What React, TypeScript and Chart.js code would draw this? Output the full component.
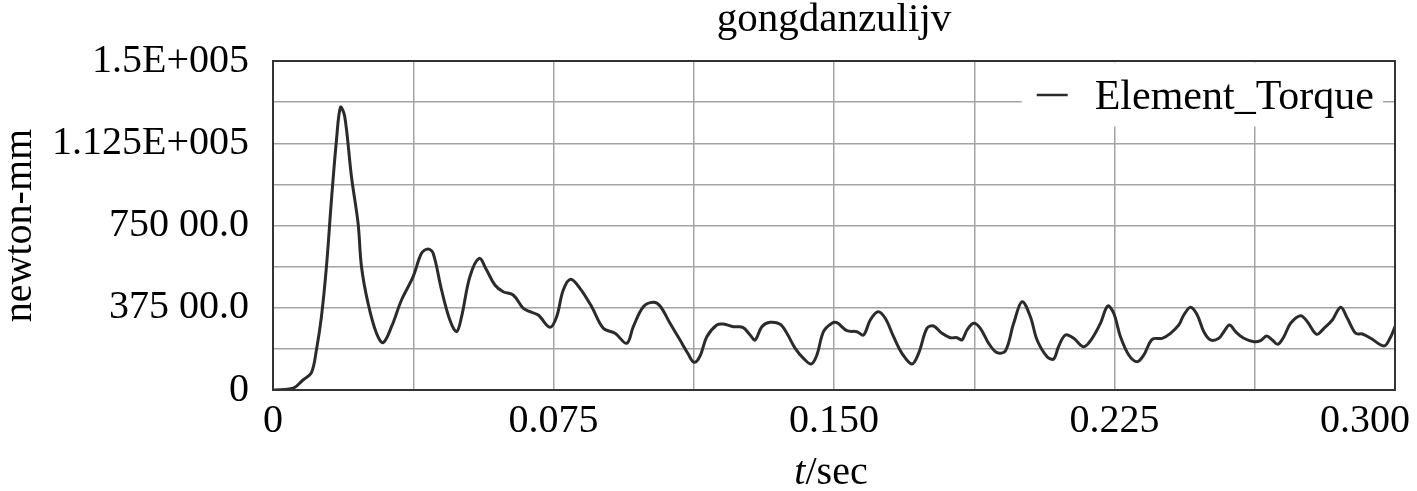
import React, { useEffect, useRef } from "react";
import { Chart, registerables } from "chart.js";

Chart.register(...registerables);

const chartTitle = "gongdanzulijv";
const seriesLabel = "Element_Torque";
const yAxisTitle = "newton-mm";
const xAxisTitleItalic = "t";
const xAxisTitleRest = "/sec";

const timeSec = [
  0, 0.00535, 0.00803, 0.01028, 0.01161, 0.01295, 0.01429, 0.01563, 0.01697, 0.01804,
  0.01919, 0.02098, 0.02275, 0.02366, 0.02542, 0.02767, 0.02944, 0.03169, 0.03436, 0.03747,
  0.03971, 0.04148, 0.04282, 0.04507, 0.04729, 0.04908, 0.05042, 0.05264, 0.05513, 0.05711,
  0.05933, 0.06155, 0.06423, 0.06691, 0.0687, 0.07092, 0.07405, 0.07584, 0.07761, 0.07959,
  0.08208, 0.08521, 0.08832, 0.09145, 0.09458, 0.09634, 0.09902, 0.1017, 0.10349, 0.10616,
  0.10884, 0.1109, 0.11259, 0.11419, 0.11599, 0.11866, 0.12043, 0.1231, 0.12562, 0.12757,
  0.12891, 0.13071, 0.13293, 0.13561, 0.1374, 0.13962, 0.14184, 0.1439, 0.14543, 0.14719,
  0.14944, 0.15078, 0.15345, 0.15613, 0.1579, 0.15969, 0.16175, 0.1637, 0.16593, 0.16817,
  0.17085, 0.17262, 0.17486, 0.17663, 0.17888, 0.1811, 0.18289, 0.18423, 0.18557, 0.18734,
  0.18913, 0.19135, 0.1936, 0.19582, 0.19804, 0.20029, 0.20251, 0.2043, 0.20698, 0.20874,
  0.21, 0.21187, 0.2141, 0.21677, 0.21902, 0.22124, 0.2232, 0.2248, 0.22659, 0.22881,
  0.23106, 0.23283, 0.23508, 0.23775, 0.23997, 0.2422, 0.24353, 0.24533, 0.24712, 0.24889,
  0.25068, 0.2529, 0.25424, 0.25576, 0.25737, 0.25959, 0.26227, 0.26406, 0.26566, 0.26719,
  0.26869, 0.27029, 0.27208, 0.27476, 0.27656, 0.27905, 0.281, 0.28325, 0.28547, 0.28726,
  0.28949, 0.29128, 0.2935, 0.29706, 0.29866, 0.3,
];

const torque = [
  0, 800, 4560, 7890, 18240, 33420, 56220, 86630, 113980, 128890,
  124600, 97250, 76000, 56220, 39530, 25850, 21570, 28860, 41030, 51660,
  62330, 64290, 62330, 45590, 31920, 26580, 33420, 51660, 60050, 54710,
  47870, 44820, 43310, 37250, 35700, 34190, 28590, 33420, 45590, 50470,
  46370, 37980, 28130, 25850, 21290, 28860, 37980, 39990, 38300, 30410,
  22800, 16730, 12630, 15500, 24300, 29640, 30090, 28860, 28590, 25080,
  22800, 28860, 30870, 29950, 25850, 19010, 14450, 11850, 15960, 26580,
  30410, 30680, 27040, 26580, 25080, 31920, 35700, 32690, 24300, 16730,
  11850, 16730, 28130, 29180, 25850, 23850, 23850, 22800, 27360, 30410,
  28130, 21290, 17010, 17780, 30410, 40260, 33420, 22800, 15180, 14130,
  19600, 25080, 23570, 19740, 23570, 30410, 38300, 34970, 24300, 15960,
  12900, 15960, 23120, 23570, 25850, 29640, 34190, 37700, 34190, 26580,
  22800, 23570, 26580, 29640, 26580, 23570, 22020, 22480, 24620, 22800,
  20840, 24300, 30410, 33880, 31140, 25400, 28130, 31920, 37700, 32690,
  25850, 25530, 23570, 20060, 23570, 28860,
];

const xTickValues = [0, 0.075, 0.15, 0.225, 0.3];
const xTickLabels = ["0", "0.075", "0.150", "0.225", "0.300      "];
const yTickValues = [0, 37500, 75000, 112500, 150000];
const yTickLabels = ["0", "375 00.0", "750 00.0", "1.125E+005", "1.5E+005"];

const FONT = "'Liberation Serif', 'Times New Roman', serif";
const LINE_COLOR = "#2b2b2b";

function labelFor(values: number[], labels: string[], v: number, tol: number) {
  for (let i = 0; i < values.length; i++) {
    if (Math.abs(values[i] - v) < tol) return labels[i];
  }
  return "";
}

const framePlugin = {
  id: "frameAndLegend",
  afterDatasetsDraw(chart: any) {
    const { ctx, chartArea } = chart;
    const { left, right, top, bottom } = chartArea;
    ctx.save();
    // frame
    ctx.strokeStyle = "#333333";
    ctx.lineWidth = 2;
    ctx.strokeRect(left, top, right - left, bottom - top);

    // legend box
    const ds = chart.data.datasets[0];
    ctx.font = `42px ${FONT}`;
    const textW = ctx.measureText(ds.label).width;
    const boxRight = right - 12;
    const boxLeft = boxRight - textW - 82;
    ctx.fillStyle = "#ffffff";
    ctx.fillRect(boxLeft, top + 1.5, boxRight - boxLeft, 64);
    const ly = top + 34;
    ctx.strokeStyle = ds.borderColor;
    ctx.lineWidth = 2.5;
    ctx.beginPath();
    ctx.moveTo(boxLeft + 15, ly);
    ctx.lineTo(boxLeft + 46, ly);
    ctx.stroke();
    ctx.fillStyle = "#000000";
    ctx.textAlign = "left";
    ctx.textBaseline = "alphabetic";
    ctx.fillText(ds.label, boxLeft + 73, top + 48);

    // x axis title: italic t + /sec
    const cx = (left + right) / 2 - 3;
    const baseY = 484;
    ctx.font = `italic 40px ${FONT}`;
    const w1 = ctx.measureText(xAxisTitleItalic).width;
    ctx.font = `40px ${FONT}`;
    const w2 = ctx.measureText(xAxisTitleRest).width;
    const startX = cx - (w1 + w2) / 2;
    ctx.font = `italic 40px ${FONT}`;
    ctx.fillText(xAxisTitleItalic, startX, baseY);
    ctx.font = `40px ${FONT}`;
    ctx.fillText(xAxisTitleRest, startX + w1, baseY);
    ctx.restore();
  },
};

export default function App() {
  const canvasRef = useRef<HTMLCanvasElement | null>(null);

  useEffect(() => {
    document.body.style.margin = "0";
    const canvas = canvasRef.current;
    if (!canvas) return;
    const points = timeSec.map((t, i) => ({ x: t, y: torque[i] }));
    const chart = new Chart(canvas, {
      type: "line",
      data: {
        datasets: [
          {
            label: seriesLabel,
            data: points,
            borderColor: LINE_COLOR,
            borderWidth: 3,
            pointRadius: 0,
            tension: 0.35,
            fill: false,
          },
        ],
      },
      options: {
        animation: false,
        responsive: false,
        maintainAspectRatio: false,
        devicePixelRatio: 1,
        layout: { padding: { left: 0, right: 22, top: 0, bottom: 0 } },
        plugins: {
          legend: { display: false },
          tooltip: { enabled: false },
          title: {
            display: true,
            fullSize: false,
            text: chartTitle,
            color: "#000000",
            font: { family: FONT, size: 41, weight: "normal", lineHeight: 1 },
            padding: { top: 0, bottom: 20 },
          },
        },
        scales: {
          x: {
            type: "linear",
            min: 0,
            max: 0.3,
            grid: { color: "#a4a4a4", lineWidth: 1.5, drawTicks: false },
            border: { display: false },
            ticks: {
              stepSize: 0.0375,
              autoSkip: false,
              maxRotation: 0,
              minRotation: 0,
              padding: 7,
              color: "#000000",
              font: { family: FONT, size: 40, lineHeight: 1.2 },
              callback: (v: any) => labelFor(xTickValues, xTickLabels, Number(v), 1e-6),
            },
            afterFit: (scale: any) => {
              scale.height = 101;
              scale.paddingLeft = 0;
              scale.paddingRight = 0;
            },
          },
          y: {
            type: "linear",
            min: 0,
            max: 150000,
            grid: { color: "#a4a4a4", lineWidth: 1.5, drawTicks: false },
            border: { display: false },
            title: {
              display: true,
              text: yAxisTitle,
              color: "#000000",
              font: { family: FONT, size: 40, lineHeight: 1 },
              padding: { top: 0, bottom: 0 },
            },
            ticks: {
              stepSize: 18750,
              autoSkip: false,
              padding: 24,
              color: "#000000",
              font: { family: FONT, size: 40, lineHeight: 1.2 },
              callback: (v: any) => labelFor(yTickValues, yTickLabels, Number(v), 1),
            },
            afterFit: (scale: any) => {
              scale.width = 273;
              scale.paddingTop = 0;
              scale.paddingBottom = 0;
            },
          },
        },
      },
      plugins: [framePlugin],
    });
    return () => chart.destroy();
  }, []);

  return (
    <div style={{ width: 1417, height: 491 }}>
      <canvas ref={canvasRef} width={1417} height={491} style={{ display: "block" }} />
    </div>
  );
}
